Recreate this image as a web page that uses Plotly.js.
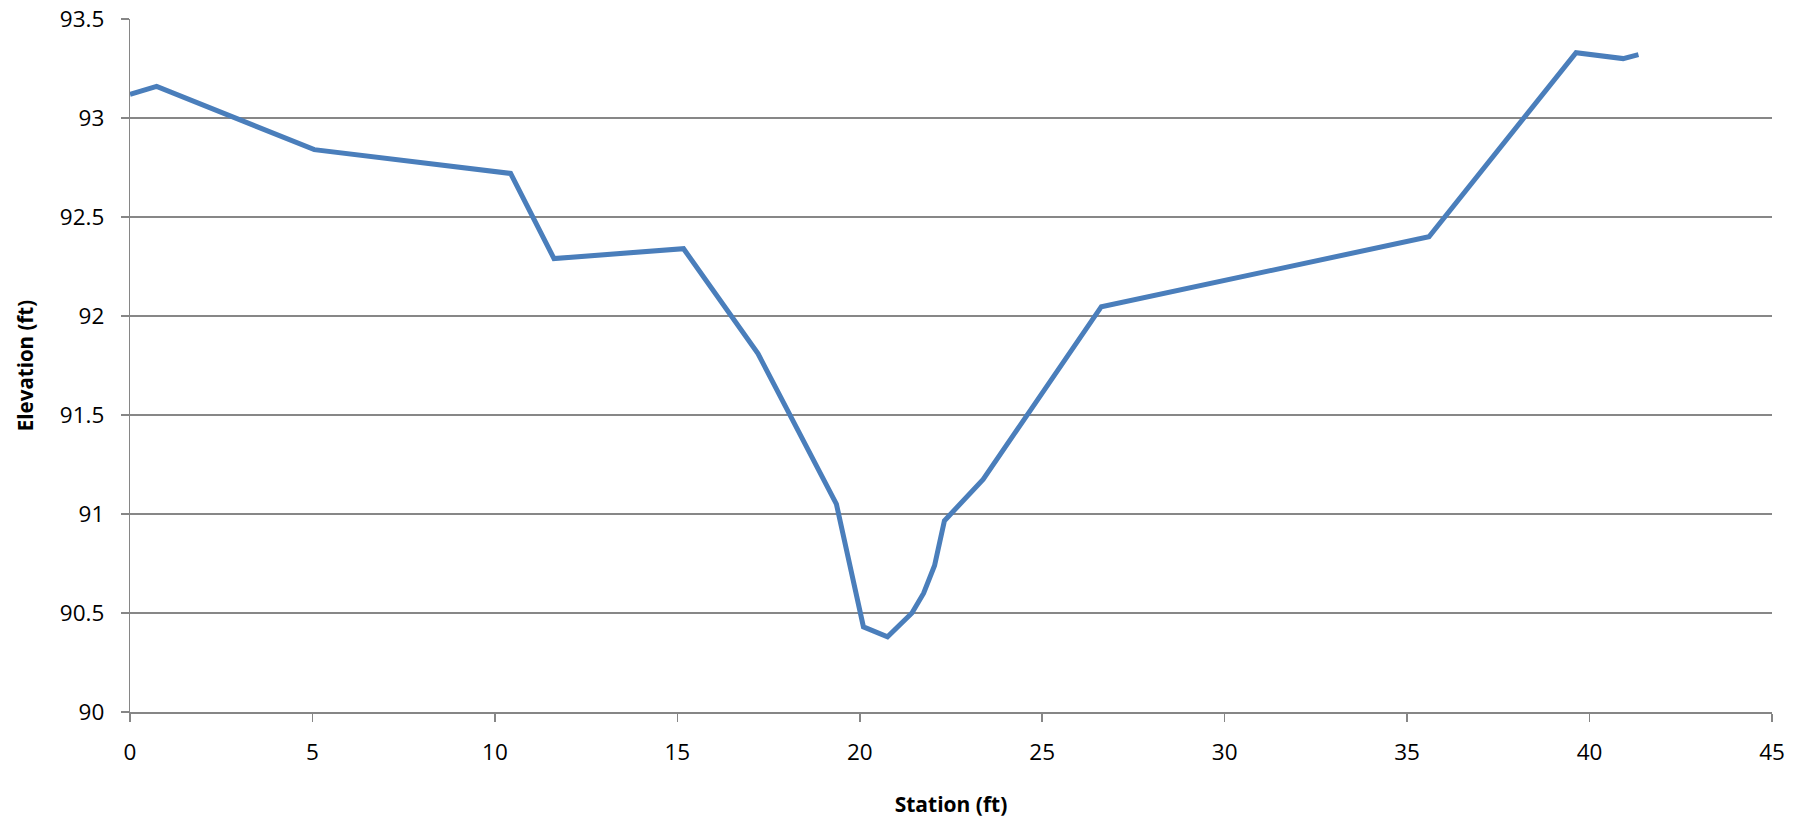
<!DOCTYPE html>
<html>
<head>
<meta charset="utf-8">
<script src="https://cdn.plot.ly/plotly-3.0.1.min.js"></script>
<style>html,body{margin:0;padding:0;background:#fff;}#chart{width:1812px;height:824px;}</style>
</head>
<body>
<div id="chart"></div>
<script>
// Station (ft)
var station = [0, 0.73, 5.05, 10.43, 11.62, 15.17, 17.21, 19.36, 20.10, 20.76, 21.43, 21.75, 22.05, 22.32, 23.38, 26.62, 35.6, 39.63, 40.92, 41.34];
// Elevation (ft)
var elevation = [93.12, 93.16, 92.84, 92.72, 92.29, 92.34, 91.81, 91.05, 90.43, 90.38, 90.50, 90.60, 90.74, 90.966, 91.175, 92.047, 92.40, 93.33, 93.30, 93.32];

var xTicks = [0, 5, 10, 15, 20, 25, 30, 35, 40, 45];
var yTicks = [90, 90.5, 91, 91.5, 92, 92.5, 93, 93.5];

var fontFam = '"Open Sans", "Liberation Sans", sans-serif';

var trace = {
  x: station,
  y: elevation,
  type: 'scatter',
  mode: 'lines',
  line: {color: '#4a7ebb', width: 5},
  hoverinfo: 'x+y'
};

var layout = {
  width: 1812,
  height: 824,
  margin: {l: 129.5, r: 40, t: 19, b: 112},
  paper_bgcolor: '#ffffff',
  plot_bgcolor: '#ffffff',
  showlegend: false,
  font: {family: fontFam, size: 22, color: '#000000'},
  xaxis: {
    range: [0, 45],
    tickvals: xTicks,
    ticktext: xTicks.map(String),
    showgrid: false,
    zeroline: false,
    showline: true,
    linecolor: '#868686',
    linewidth: 1.8,
    ticks: 'outside',
    ticklen: 8,
    tickwidth: 1.5,
    tickcolor: '#868686',
    tickfont: {family: fontFam, size: 22.5, color: '#000'},
    ticklabelstandoff: 11,
    title: {text: 'Station (ft)', font: {family: fontFam, size: 21, color: '#000', weight: 'bold'}, standoff: 31}
  },
  yaxis: {
    range: [90, 93.5],
    tickvals: yTicks,
    ticktext: yTicks.map(String),
    showgrid: true,
    gridcolor: '#878787',
    gridwidth: 1.8,
    zeroline: false,
    showline: true,
    linecolor: '#868686',
    linewidth: 1.2,
    ticks: 'outside',
    ticklen: 8,
    tickwidth: 1.5,
    tickcolor: '#868686',
    tickfont: {family: fontFam, size: 22.5, color: '#000'},
    ticklabelstandoff: 12,
    title: {text: 'Elevation (ft)', font: {family: fontFam, size: 20.5, color: '#000', weight: 'bold'}, standoff: 20}
  }
};

Plotly.newPlot('chart', [trace], layout, {displayModeBar: false, staticPlot: true});
</script>
</body>
</html>
